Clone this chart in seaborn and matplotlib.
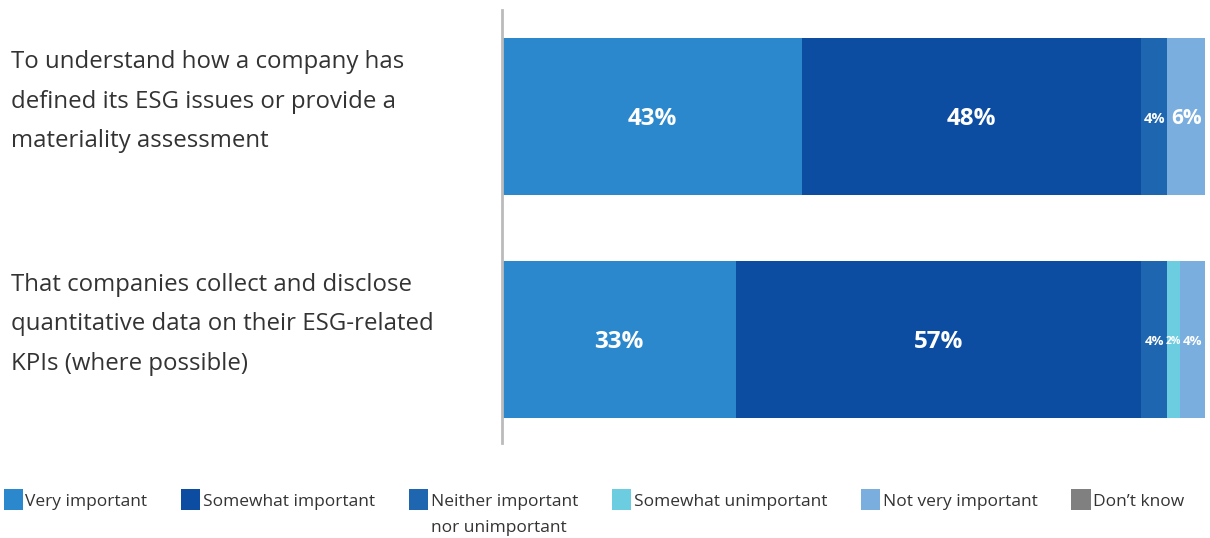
"""
Stacked horizontal bar chart: importance of ESG disclosure items
"""

import numpy as np
import pandas as pd
import matplotlib
matplotlib.use('Agg')
import matplotlib.pyplot as plt
import matplotlib.transforms as mtransforms
from matplotlib.patches import Patch
import seaborn as sns

# Data (shares in %)
QUESTIONS = [
    'To understand how a company has\ndefined its ESG issues or provide a\nmateriality assessment',
    'That companies collect and disclose\nquantitative data on their ESG-related\nKPIs (where possible)',
]
CATEGORIES = ['Very important', 'Somewhat important', 'Neither important\nnor unimportant',
              'Somewhat unimportant', 'Not very important', "Don\u2019t know"]
very_important = [42.7, 33.3]
somewhat_important = [48.2, 57.6]
neither = [3.7, 3.7]
somewhat_unimportant = [0.0, 1.8]
not_very_important = [5.4, 3.6]
dont_know = [0.0, 0.0]

# printed labels
LABELS = [
    ['43%', '48%', '4%', '', '6%', ''],
    ['33%', '57%', '4%', '2%', '4%', ''],
]
LABEL_SIZES = [
    [17.5, 17.5, 10.5, 0, 15, 0],
    [17.5, 17.5, 9.5, 7.5, 9.5, 0],
]

COLORS = ['#2B88CC', '#0C4DA2', '#1F66B0', '#6DCDE0', '#7AAEDE', '#808080']
TEXT_COLOR = '#333333'


def build_frame():
    rows = []
    series = [very_important, somewhat_important, neither,
              somewhat_unimportant, not_very_important, dont_know]
    for cat, vals in zip(CATEGORIES, series):
        for q, v in zip(QUESTIONS, vals):
            rows.append({'question': q, 'category': cat, 'value': v})
    df = pd.DataFrame(rows)
    df['cum'] = df.groupby('question')['value'].cumsum()
    return df


def main():
    df = build_frame()
    sns.set_style('white')
    plt.rcParams['font.family'] = ['Open Sans', 'DejaVu Sans']

    fig = plt.figure(figsize=(12.10, 5.38), dpi=100)
    ax = fig.add_axes([0.415, 0.177, 0.581, 0.804])

    # draw cumulative totals from the last segment back to the first
    for cat, color in reversed(list(zip(CATEGORIES, COLORS))):
        sub = df[df['category'] == cat]
        sns.barplot(data=sub, x='cum', y='question', orient='h', color=color,
                    width=0.704, linewidth=0, saturation=1, ax=ax)

    # value labels
    for i, q in enumerate(QUESTIONS):
        sub = df[df['question'] == q].reset_index(drop=True)
        start = 0.0
        for j, row in sub.iterrows():
            lab = LABELS[i][j]
            if lab:
                mid = start + row['value'] / 2
                ax.text(mid, i + 0.01, lab, ha='center', va='center', color='white',
                        fontsize=LABEL_SIZES[i][j], fontweight='bold')
            start += row['value']

    ax.set_xlim(0, 100)
    ax.set_ylim(1.464, -0.478)
    ax.set_xlabel('')
    ax.set_ylabel('')
    ax.set_xticks([])
    ax.set_yticks([])
    for s in ['top', 'right', 'bottom']:
        ax.spines[s].set_visible(False)
    ax.spines['left'].set_color('#BBBBBB')
    ax.spines['left'].set_linewidth(2)

    # question text on the left
    trans = mtransforms.blended_transform_factory(fig.transFigure, ax.transData)
    for i, q in enumerate(QUESTIONS):
        ax.text(0.009, i - 0.068, q, transform=trans, ha='left', va='center',
                fontsize=17.3, color=TEXT_COLOR, linespacing=1.85, fontweight='normal')

    # legend: square sits on the first line of a wrapped label
    handles = [Patch(facecolor=c, edgecolor='none') for c in COLORS]
    first_lines = [c.split('\n')[0] for c in CATEGORIES]
    leg = fig.legend(handles, first_lines, loc='center left', bbox_to_anchor=(0.003, 0.071),
                     ncol=6, frameon=False, fontsize=12.5, handlelength=1.1, handleheight=1.5,
                     handletextpad=0.15, columnspacing=1.95, borderaxespad=0, borderpad=0,
                     labelcolor=TEXT_COLOR)
    fig.canvas.draw()
    inv = fig.transFigure.inverted()
    for txt, cat in zip(leg.get_texts(), CATEGORIES):
        if '\n' in cat:
            bb = txt.get_window_extent()
            x0, y0 = inv.transform((bb.x0, bb.y0))
            fig.text(x0, y0 - 0.02, cat.split('\n', 1)[1], ha='left', va='top',
                     fontsize=12.5, color=TEXT_COLOR)

    fig.savefig('out.png', dpi=100)
    plt.close(fig)


if __name__ == '__main__':
    main()
